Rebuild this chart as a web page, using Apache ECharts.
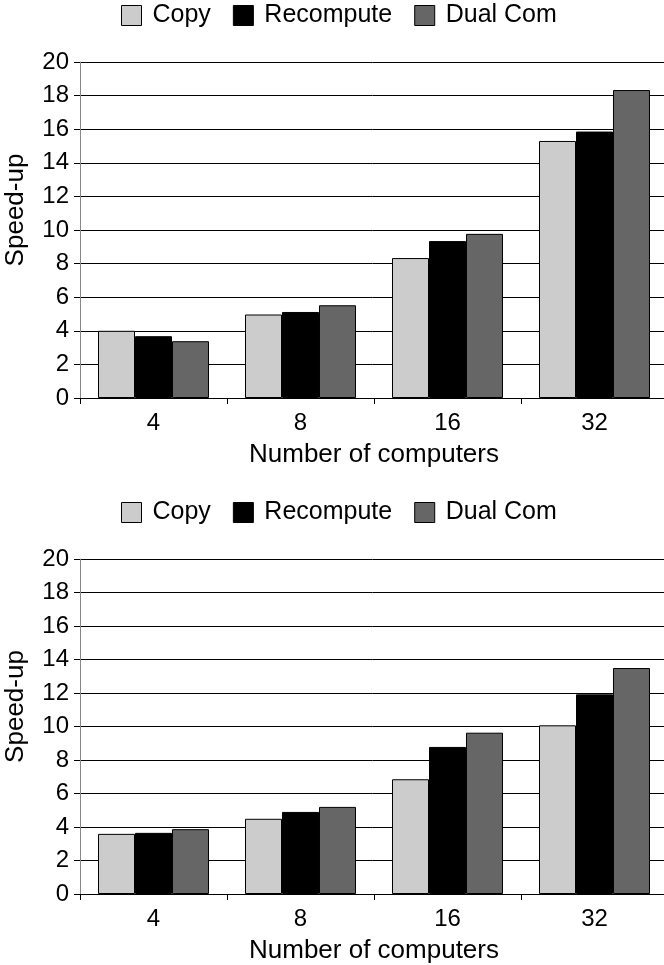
<!DOCTYPE html>
<html>
<head>
<meta charset="utf-8">
<script src="https://cdn.jsdelivr.net/npm/echarts@6/dist/echarts.min.js"></script>
<style>
  html, body { margin: 0; padding: 0; background: #fff; }
  #chart { width: 664px; height: 965px; }
</style>
</head>
<body>
<div id="chart"></div>
<script>
const categories = ['4', '8', '16', '32']
const seriesNames = ['Copy', 'Recompute', 'Dual Com']
const colors = ['#cccccc', '#000000', '#666666']

// top chart
const topCopy = [4.0, 4.97, 8.33, 15.3]
const topRecompute = [3.68, 5.12, 9.34, 15.86]
const topDual = [3.38, 5.52, 9.77, 18.33]

// bottom chart
const bottomCopy = [3.59, 4.49, 6.85, 10.07]
const bottomRecompute = [3.65, 4.9, 8.78, 11.92]
const bottomDual = [3.87, 5.2, 9.63, 13.49]

const font = "'Liberation Sans', Arial, Helvetica, sans-serif"

const chart = echarts.init( document.getElementById( 'chart' ) )

const makeLegend = top => ( {
  top,
  left : 121,
  padding : 0,
  itemWidth : 20,
  itemHeight : 20,
  itemGap : 22,
  icon : 'rect',
  data : seriesNames,
  itemStyle : { borderColor : '#000', borderWidth : 1 },
  textStyle : { fontFamily : font, fontSize : 25, color : '#000', padding : [0, 0, 0, 6] }
} )

const makeX = gridIndex => ( {
  type : 'category',
  gridIndex,
  data : categories,
  name : 'Number of computers',
  nameLocation : 'middle',
  nameGap : 44,
  nameTextStyle : { fontFamily : font, fontSize : 26, color : '#000' },
  axisLine : { lineStyle : { color : '#000', width : 1 } },
  axisTick : { show : true, length : 6, lineStyle : { color : '#000' } },
  axisLabel : { fontFamily : font, fontSize : 24, color : '#000', margin : 13 }
} )

const makeY = gridIndex => ( {
  type : 'value',
  gridIndex,
  min : 0,
  max : 20,
  interval : 2,
  name : 'Speed-up',
  nameLocation : 'middle',
  nameGap : 51,
  nameTextStyle : { fontFamily : font, fontSize : 26, color : '#000', padding : [0, 0, 0, 40] },
  axisLine : { show : true, lineStyle : { color : '#888', width : 1 } },
  axisTick : { show : true, length : 6, lineStyle : { color : '#000' } },
  axisLabel : { fontFamily : font, fontSize : 24, color : '#000', margin : 11 },
  splitLine : { show : true, lineStyle : { color : '#000', width : 1 } }
} )

const makeBar = ( name, data, idx, color ) => ( {
  name,
  type : 'bar',
  xAxisIndex : idx,
  yAxisIndex : idx,
  data,
  barGap : '0%',
  barCategoryGap : '24.5%',
  itemStyle : { color, borderColor : '#000', borderWidth : 1 },
  animation : false
} )

chart.setOption( {
  backgroundColor : '#fff',
  animation : false,
  color : colors,
  legend : [makeLegend( 3 ), makeLegend( 500 )],
  grid : [
    { left : 80, top : 62, width : 588, height : 336, outerBoundsMode : 'none', containLabel : false },
    { left : 80, top : 559, width : 588, height : 335, outerBoundsMode : 'none', containLabel : false }
  ],
  xAxis : [makeX( 0 ), makeX( 1 )],
  yAxis : [makeY( 0 ), makeY( 1 )],
  series : [
    makeBar( 'Copy', topCopy, 0, colors[0] ),
    makeBar( 'Recompute', topRecompute, 0, colors[1] ),
    makeBar( 'Dual Com', topDual, 0, colors[2] ),
    makeBar( 'Copy', bottomCopy, 1, colors[0] ),
    makeBar( 'Recompute', bottomRecompute, 1, colors[1] ),
    makeBar( 'Dual Com', bottomDual, 1, colors[2] )
  ]
} )
</script>
</body>
</html>
